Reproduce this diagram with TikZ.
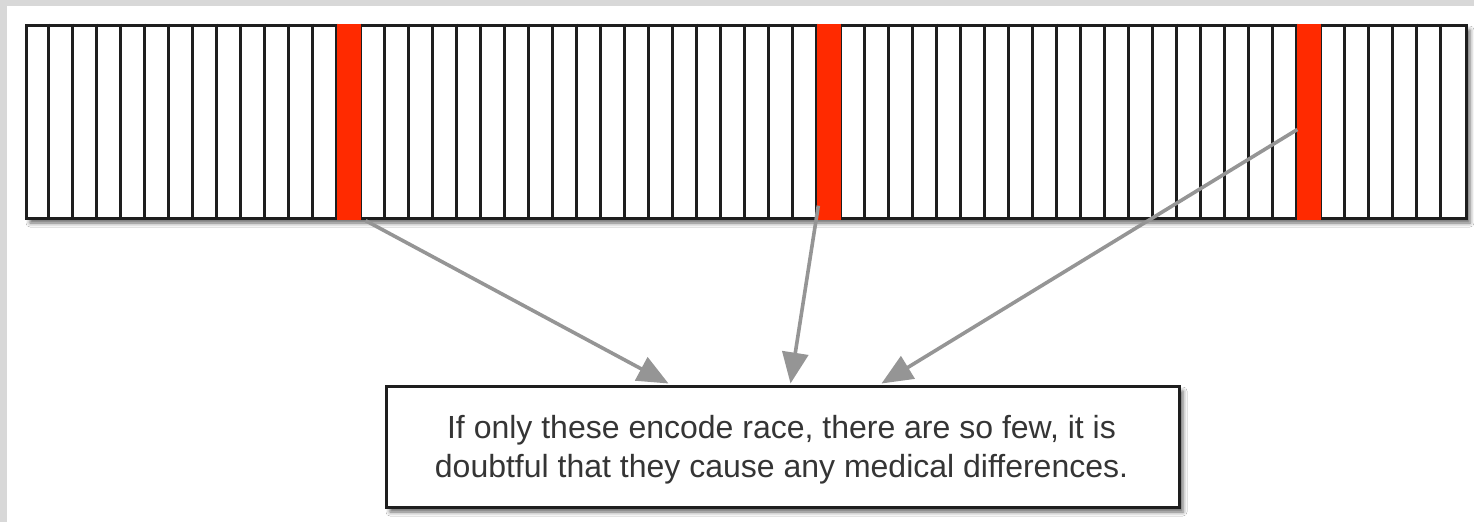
\documentclass[tikz,border=0pt]{standalone}
\usepackage{fontspec}
\setmainfont{Liberation Sans}
\usetikzlibrary{arrows.meta,calc,shadows.blur}
\definecolor{genered}{HTML}{FF2A00}
\definecolor{arrowgray}{HTML}{959595}
\definecolor{ink}{HTML}{1E1E1E}
\definecolor{framegray}{HTML}{D8D8D8}
\begin{document}
\begin{tikzpicture}[x=1pt,y=-1pt,
  softshadow/.style={blur shadow={shadow xshift=4pt,shadow yshift=-5pt,
      shadow blur radius=4pt,shadow opacity=60}},
  strip/.style={draw=ink,line width=3pt,fill=white,inner sep=0pt,
      minimum width=1440pt,minimum height=193pt,softshadow},
  cellline/.style={draw=ink,line width=2.7pt},
  redbar/.style={fill=genered,draw=none,inner sep=0pt,
      minimum width=24pt,minimum height=196pt},
  msgbox/.style={draw=ink,line width=3pt,fill=white,inner sep=0pt,
      minimum width=793pt,minimum height=121pt,softshadow},
  msgtext/.style={align=center,text=ink!90,inner sep=0pt,
      font=\fontsize{32}{38.5}\selectfont},
  pointer/.style={draw=arrowgray,line width=3.6pt,
      -{Triangle[length=31pt,width=26pt]}}]

\useasboundingbox (0,0) rectangle (1474,522);
% frame and white panel
\fill[framegray] (0,0) rectangle (1474,522);
\fill[white] (7,6) rectangle (1474,522);

% the strip of sixty cells
\node[strip] (strip) at (746,121.5) {};
\foreach \i in {1,...,59}
  \draw[cellline] ($(strip.north west)+(24*\i,0)$) -- ($(strip.south west)+(24*\i,0)$);

% highlighted cells
\node[redbar] (r1) at ($(strip.west)+(24*13.5,0)$) {};
\node[redbar] (r2) at ($(strip.west)+(24*33.5,0)$) {};
\node[redbar] (r3) at ($(strip.west)+(24*53.5,0)$) {};

% message box
\node[msgbox] (msg) at (782.5,446.5) {};
\node[msgtext] (msgtxt) at ($(msg.center)+(-1,3)$)
  {If only these encode race, there are so few, it is\\
   doubtful that they cause any medical differences.};

% pointers from the highlighted cells to the box
\draw[pointer] ($(r1.south east)+(5,1)$) -- ($(msg.north west)+(284,-1)$);
\draw[pointer] ($(r2.south west)+(2,-14)$) -- ($(msg.north west)+(406,-1)$);
\draw[pointer] ($(r3.west)+(1,8)$) -- ($(msg.north west)+(497,-1)$);
\end{tikzpicture}
\end{document}
